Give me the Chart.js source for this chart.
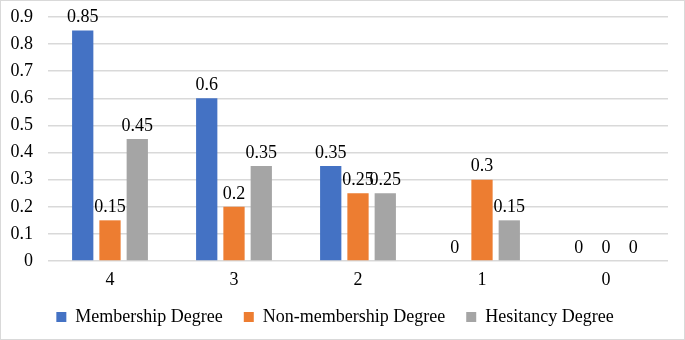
<!DOCTYPE html>
<html>
<head>
<meta charset="utf-8">
<script src="https://cdn.jsdelivr.net/npm/chart.js@4"></script>
<style>
  html, body { margin: 0; padding: 0; background: #fff; }
  #wrap { width: 685px; height: 340px; box-sizing: border-box; border: 1px solid #d9d9d9; }
</style>
</head>
<body>
<div id="wrap"><canvas id="myChart"></canvas></div>
<script>
const categories = ["4", "3", "2", "1", "0"];
const membership = [0.85, 0.6, 0.35, 0, 0];
const nonMembership = [0.15, 0.2, 0.25, 0.3, 0];
const hesitancy = [0.45, 0.35, 0.25, 0.15, 0];

const serif = "'Liberation Serif', 'Times New Roman', serif";

// draw the value above each bar
const valueLabels = {
  id: "valueLabels",
  afterDatasetsDraw(chart) {
    const ctx = chart.ctx;
    ctx.save();
    ctx.font = "18px " + serif;
    ctx.fillStyle = "#000";
    ctx.textAlign = "center";
    ctx.textBaseline = "bottom";
    chart.data.datasets.forEach((ds, i) => {
      const meta = chart.getDatasetMeta(i);
      meta.data.forEach((bar, j) => {
        ctx.fillText(String(ds.data[j]), bar.x, bar.y - 4);
      });
    });
    ctx.restore();
  }
};

const config = {
  type: "bar",
  data: {
    labels: categories,
    datasets: [
      { label: "Membership Degree", data: membership, backgroundColor: "#4472C4" },
      { label: "Non-membership Degree", data: nonMembership, backgroundColor: "#ED7D31" },
      { label: "Hesitancy Degree", data: hesitancy, backgroundColor: "#A5A5A5" }
    ]
  },
  options: {
    responsive: true,
    maintainAspectRatio: false,
    animation: false,
    datasets: { bar: { categoryPercentage: 0.66, barPercentage: 0.78 } },
    layout: { padding: { top: 0, left: 1, right: 16, bottom: 3 } },
    scales: {
      x: {
        grid: { display: false, drawTicks: false },
        border: { display: false },
        ticks: { color: "#000", font: { family: serif, size: 18, lineHeight: 1 }, padding: 10 },
        afterFit: (scale) => { scale.height = 26; }
      },
      y: {
        min: 0,
        max: 0.9,
        ticks: { stepSize: 0.1, autoSkip: false, color: "#000", font: { family: serif, size: 18 }, padding: 15 },
        grid: { color: "#d9d9d9", lineWidth: 1.5, drawTicks: false },
        border: { display: false },
        afterFit: (scale) => { scale.paddingTop = 16; scale.width = 46; }
      }
    },
    plugins: {
      legend: {
        position: "bottom",
        labels: { color: "#000", font: { family: serif, size: 18 }, boxWidth: 10, boxHeight: 10, padding: 21 }
      },
      tooltip: { enabled: false }
    }
  },
  plugins: [valueLabels]
};

window.onload = () => {
  new Chart(document.getElementById("myChart"), config);
};
</script>
</body>
</html>
